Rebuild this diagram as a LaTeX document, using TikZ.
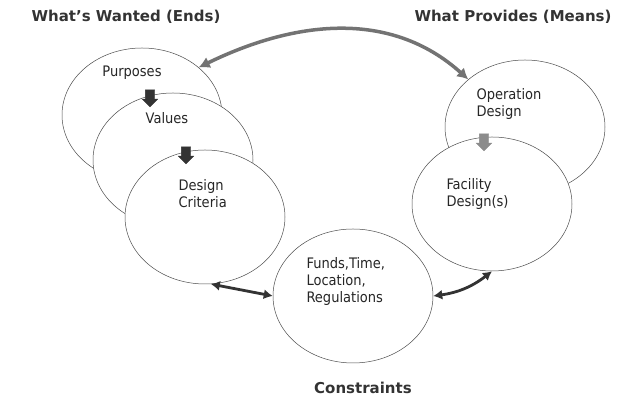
\documentclass[tikz,border=0pt]{standalone}
\usepackage{fontspec}
\setmainfont{DejaVu Sans}
\newfontfamily\condfont{DejaVu Sans Condensed}
\usetikzlibrary{arrows.meta,shapes.geometric,shapes.arrows}
\tikzset{
  bubble/.style={ellipse,draw=black!70,line width=0.5pt,fill=white,minimum width=160pt,minimum height=134pt,inner sep=0pt},
  txt/.style={font=\condfont\fontsize{14.5}{17}\selectfont,align=left,anchor=west,text=black!85},
  head/.style={font=\fontsize{15}{17}\selectfont\bfseries,text=black!80},
  downarrow/.style={single arrow,shape border rotate=270,fill=#1,draw=#1,inner sep=4.5pt,minimum height=17pt,single arrow head extend=3pt},
  downarrow/.default=black!80,
  loop/.style={line width=3.5pt,draw=black!55,{Latex[length=11pt,width=12pt]}-{Latex[length=11pt,width=12pt]}},
  link/.style={line width=2.8pt,draw=black!80,{Latex[length=9pt,width=10pt]}-{Latex[length=9pt,width=10pt]}}
}
\begin{document}
\begin{tikzpicture}[x=1pt,y=1pt]
\useasboundingbox (0,0) rectangle (633,398);
\node[head] (wanted) at (126,381) {What’s Wanted (Ends)};
\node[head] (provides) at (513,381) {What Provides (Means)};
\node[head] (constr) at (363,10) {Constraints};
\node[bubble] (purp) at (142,283) {};
\node[bubble] (val) at (173,238) {};
\node[bubble] (crit) at (205,181) {};
\node[bubble] (oper) at (525,271) {};
\node[bubble] (fac) at (492,194) {};
\node[bubble] (cons) at (353,102) {};
\node[txt,anchor=center] (purpt) at (132,325) {Purposes};
\node[txt,anchor=center] (valt) at (167,280) {Values};
\node[txt] (critt) at (175,204) {Design\\Criteria};
\node[txt] (opert) at (473,294) {Operation\\Design};
\node[txt] (fact) at (443,204) {Facility\\Design(s)};
\node[txt] (const) at (303,116) {Funds,Time,\\Location,\\Regulations};
\node[downarrow] (a1) at (150,302) {};
\node[downarrow] (a2) at (186,245) {};
\node[downarrow=black!45] (a3) at (484,258) {};
\draw[loop] (purp.40) to[out=26,in=138] (oper.140);
\draw[link] (crit.275) -- (cons.west);
\draw[link] (cons.east) to[bend right=15] (fac.south);
\end{tikzpicture}
\end{document}
